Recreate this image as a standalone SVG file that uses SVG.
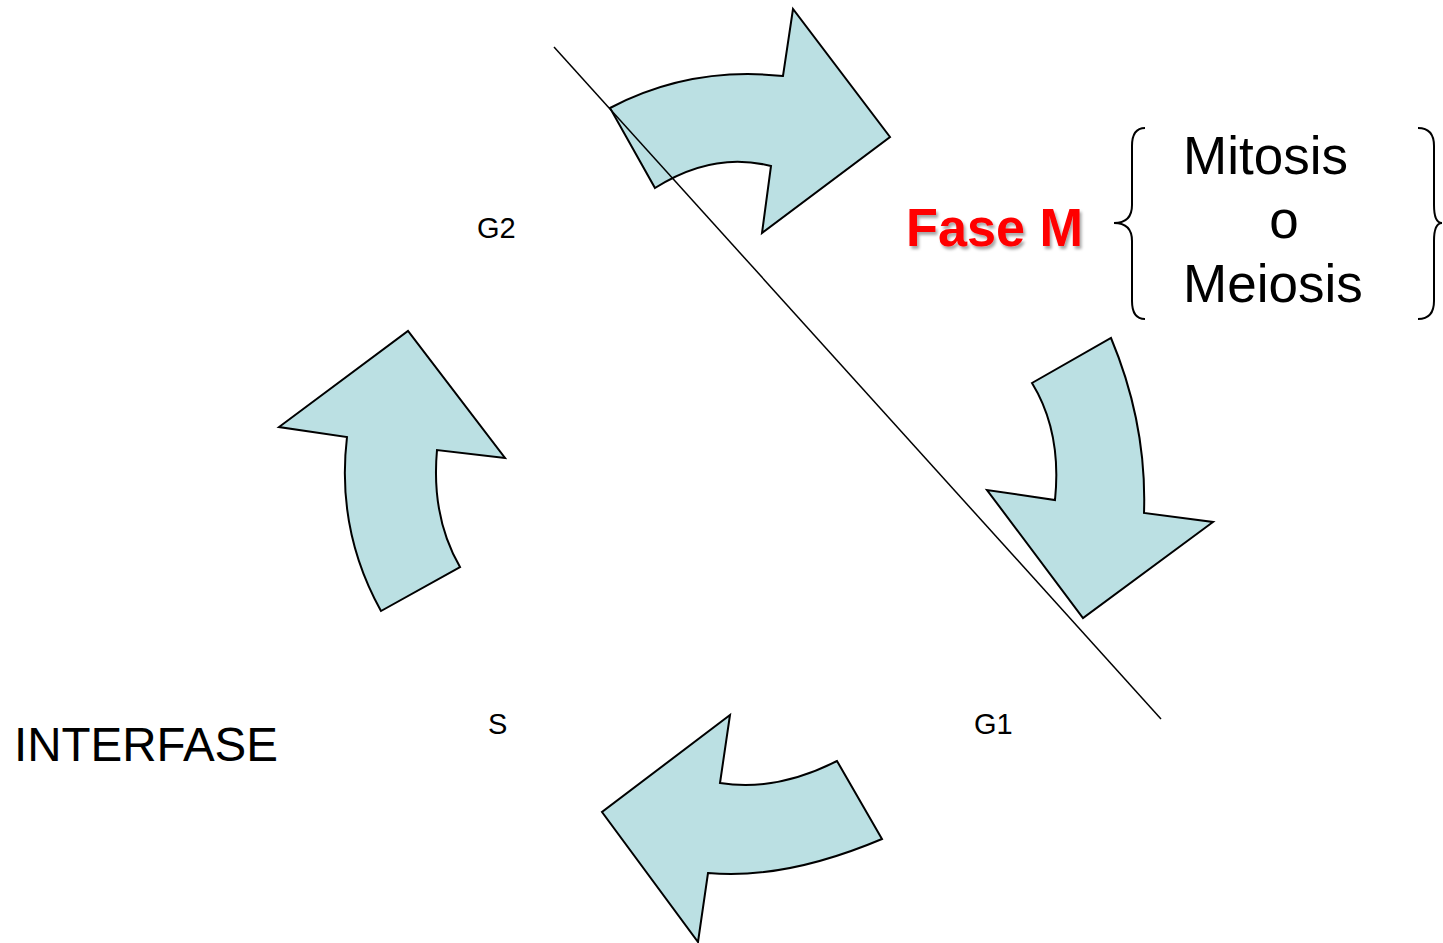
<svg xmlns="http://www.w3.org/2000/svg" width="1443" height="943" viewBox="0 0 1443 943">
<defs>
<style>
.arrow{fill:#bbe0e3;stroke:#000;stroke-width:2;stroke-linejoin:miter}
.lbl{font-family:"Liberation Sans",Arial,sans-serif;fill:#000}
.brace{fill:none;stroke:#000;stroke-width:2}
</style>
<filter id="sh" x="-10%" y="-10%" width="130%" height="140%">
<feGaussianBlur in="SourceAlpha" stdDeviation="1.5"/>
<feOffset dx="2" dy="3" result="b"/>
<feFlood flood-color="#000" flood-opacity="0.35"/>
<feComposite in2="b" operator="in"/>
<feMerge><feMergeNode/><feMergeNode in="SourceGraphic"/></feMerge>
</filter>
</defs>
<rect width="1443" height="943" fill="#fff"/>
<g id="arrow-top">
<path class="arrow" d="M610,108 Q690,66 783,76 L793,9 L890,137 L762,233 L771,166 Q713,151 655,188 Z"/>
</g>
<g id="arrow-right">
<path class="arrow" d="M1111,338 Q1147,424 1144,513 L1213,522 L1083,618 L987,490 L1055,500 Q1062,432 1032,383 Z"/>
</g>
<g id="arrow-bottom">
<path class="arrow" d="M837,761 Q776,792 720,783 L730,715 L602,812 L698,942 L708,873 Q785,880 882,839 Z"/>
</g>
<g id="arrow-left">
<path class="arrow" d="M460,567 Q431,517 437,450 L505,458 L408,331 L279,427 L347,437 Q336,530 381,611 Z"/>
</g>
<g id="connectors">
<line x1="554" y1="47" x2="1161" y2="719" stroke="#000" stroke-width="1.5"/>
</g>
<g id="label-g2"><text class="lbl" x="477" y="238" font-size="29">G2</text></g>
<g id="label-s"><text class="lbl" x="488" y="734" font-size="29">S</text></g>
<g id="label-g1"><text class="lbl" x="974" y="734" font-size="29">G1</text></g>
<g id="label-interfase"><text class="lbl" x="14" y="761" font-size="48" textLength="264" lengthAdjust="spacingAndGlyphs">INTERFASE</text></g>
<g id="label-fasem"><text x="906" y="246" font-family="Liberation Sans,Arial,sans-serif" font-weight="bold" font-size="53" fill="#ff0000" filter="url(#sh)" textLength="177" lengthAdjust="spacingAndGlyphs">Fase M</text></g>
<g id="brace-group">
<path class="brace" d="M1145,128 Q1132,128 1132,146 L1132,205 Q1132,223 1114,223 Q1132,223 1132,241 L1132,301 Q1132,319 1145,319"/>
<path class="brace" d="M1418,128 Q1434,128 1434,146 L1434,205 Q1434,223 1442,223 Q1434,223 1434,241 L1434,301 Q1434,319 1418,319"/>
<text class="lbl" x="1183" y="174" font-size="53">Mitosis</text>
<text class="lbl" x="1284" y="238" font-size="53" text-anchor="middle">o</text>
<text class="lbl" x="1183" y="302" font-size="53">Meiosis</text>
</g>
</svg>
